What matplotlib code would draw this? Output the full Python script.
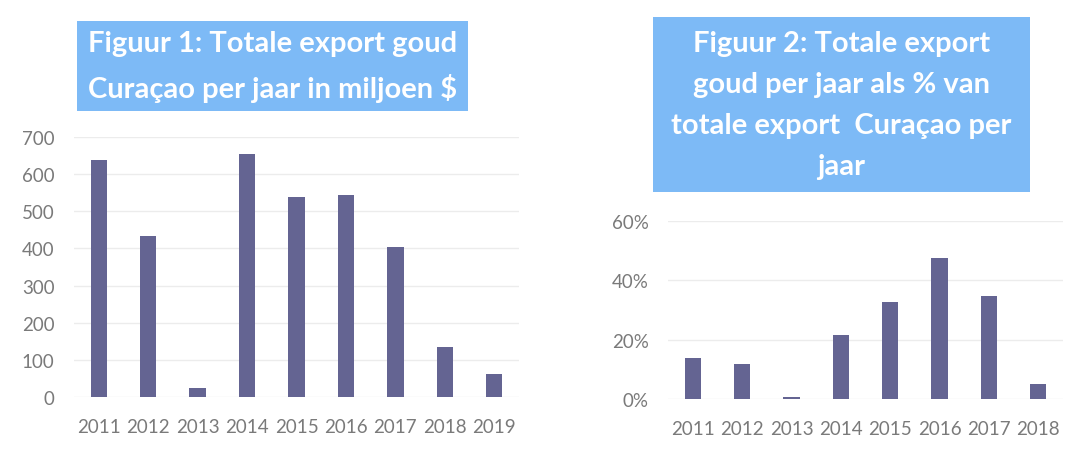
import matplotlib
matplotlib.use('Agg')
import matplotlib.pyplot as plt
from matplotlib.patches import Rectangle
from matplotlib.ticker import PercentFormatter

plt.rcParams['font.family'] = ['Lato', 'DejaVu Sans']

# figuur 1: export goud in miljoen $
years1 = ['2011', '2012', '2013', '2014', '2015', '2016', '2017', '2018', '2019']
export_goud = [638, 434, 24, 655, 539, 544, 404, 135, 62]

# figuur 2: export goud als % van totale export
years2 = ['2011', '2012', '2013', '2014', '2015', '2016', '2017', '2018']
export_pct = [0.138, 0.118, 0.006, 0.215, 0.327, 0.475, 0.347, 0.05]

W, H = 1090, 452
bar_color = '#646492'
tick_color = '#7a7a7a'
grid_color = '#ececec'
box_color = '#7dbaf6'

fig = plt.figure(figsize=(W / 100, H / 100), dpi=100)
fig.patch.set_facecolor('white')


def px_axes(x0, x1, ytop, ybot):
    return fig.add_axes([x0 / W, 1 - ybot / H, (x1 - x0) / W, (ybot - ytop) / H])


def style(ax):
    for s in ax.spines.values():
        s.set_visible(False)
    ax.tick_params(length=0, colors=tick_color, labelsize=13.5)
    ax.tick_params(axis='x', pad=15)
    ax.tick_params(axis='y', pad=14)
    ax.grid(axis='y', color=grid_color, linewidth=1)
    ax.set_axisbelow(True)


ax1 = px_axes(74, 519, 138, 398)
ax1.bar(range(len(years1)), export_goud, width=0.33, color=bar_color)
ax1.set_xticks(range(len(years1)), years1)
ax1.set_xlim(-0.5, len(years1) - 0.5)
ax1.set_ylim(0, 700)
ax1.set_yticks(range(0, 701, 100))
style(ax1)

ax2 = px_axes(668, 1063, 222, 400)
ax2.bar(range(len(years2)), export_pct, width=0.33, color=bar_color)
ax2.set_xticks(range(len(years2)), years2)
ax2.set_xlim(-0.5, len(years2) - 0.5)
ax2.set_ylim(0, 0.6)
ax2.set_yticks([0, 0.2, 0.4, 0.6])
ax2.yaxis.set_major_formatter(PercentFormatter(1.0, decimals=0))
style(ax2)

# titel boxen
def title_box(x0, x1, ytop, ybot, text, spacing):
    fig.patches.append(Rectangle((x0 / W, 1 - ybot / H), (x1 - x0) / W, (ybot - ytop) / H,
                                 transform=fig.transFigure, facecolor=box_color,
                                 edgecolor='none', zorder=0))
    fig.text((x0 + x1) / 2 / W, 1 - (ytop + ybot) / 2 / H, text, ha='center', va='center',
             color='white', fontsize=21, fontweight='bold', linespacing=spacing)


title_box(77, 468, 22, 112, 'Figuur 1: Totale export goud\nCuraçao per jaar in miljoen $', 1.7)
title_box(653, 1030, 18, 193, 'Figuur 2: Totale export\ngoud per jaar als % van\ntotale export  Curaçao per\njaar', 1.72)

plt.savefig('out.png', dpi=100)
